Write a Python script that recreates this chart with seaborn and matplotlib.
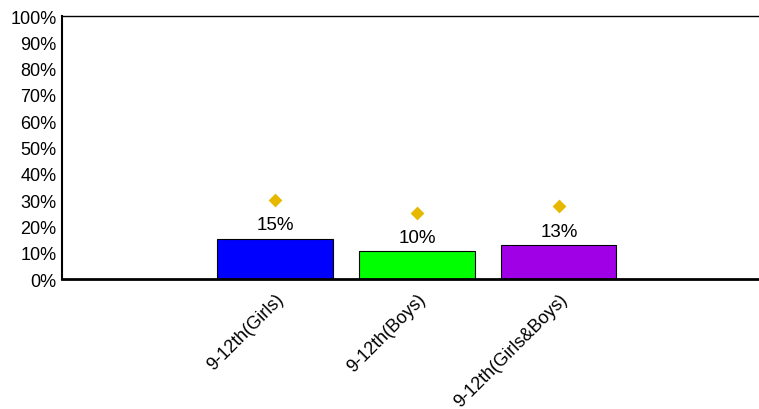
import matplotlib
matplotlib.use("Agg")
import matplotlib.pyplot as plt
import seaborn as sns
import pandas as pd
from matplotlib.ticker import PercentFormatter

# ========================================
# Data
# ========================================
categories = ['9-12th(Girls)', '9-12th(Boys)', '9-12th(Girls&Boys)']
values = [15.2, 10.6, 12.9]
value_labels = ['15%', '10%', '13%']
marker_values = [30.0, 25.0, 27.6]
bar_colors = ['#0000FF', '#00FF00', '#A000E6']
yticks = list(range(0, 101, 10))

df = pd.DataFrame({'group': categories, 'pct': values, 'marker': marker_values})

# ========================================
# Plot
# ========================================
sns.set_style('white')
plt.rcParams['font.family'] = ['Liberation Sans', 'DejaVu Sans']
plt.rcParams['text.color'] = 'black'
plt.rcParams['xtick.color'] = 'black'
plt.rcParams['ytick.color'] = 'black'

fig = plt.figure(figsize=(7.59, 4.10), dpi=100)
ax = fig.add_axes([0.0817, 0.317, 0.9354, 0.6415])

sns.barplot(data=df, x='group', y='pct', hue='group', palette=bar_colors,
            saturation=1, width=0.81, edgecolor='black', linewidth=0.8,
            legend=False, ax=ax)
sns.stripplot(data=df, x='group', y='marker', marker='D', color='#E6B800',
              size=7, jitter=False, ax=ax, zorder=5)

for cont, lab in zip(ax.containers, value_labels):
    ax.bar_label(cont, labels=[lab], padding=4, fontsize=13.5, color='black')

ax.set_xlim(-1.5, 3.5)
ax.set_ylim(0, 100)
ax.set_yticks(yticks)
ax.yaxis.set_major_formatter(PercentFormatter(decimals=0))
ax.tick_params(axis='y', labelsize=13, length=0, pad=4)
ax.tick_params(axis='x', labelsize=13, length=0, pad=8)
plt.setp(ax.get_xticklabels(), rotation=45, ha='right', rotation_mode='anchor')
ax.set_xlabel('')
ax.set_ylabel('')

ax.spines['right'].set_visible(False)
ax.spines['bottom'].set_linewidth(2.0)
ax.spines['left'].set_linewidth(1.5)
ax.spines['top'].set_linewidth(1.0)
for s in ax.spines.values():
    s.set_color('black')

plt.savefig('out.png', dpi=100)
